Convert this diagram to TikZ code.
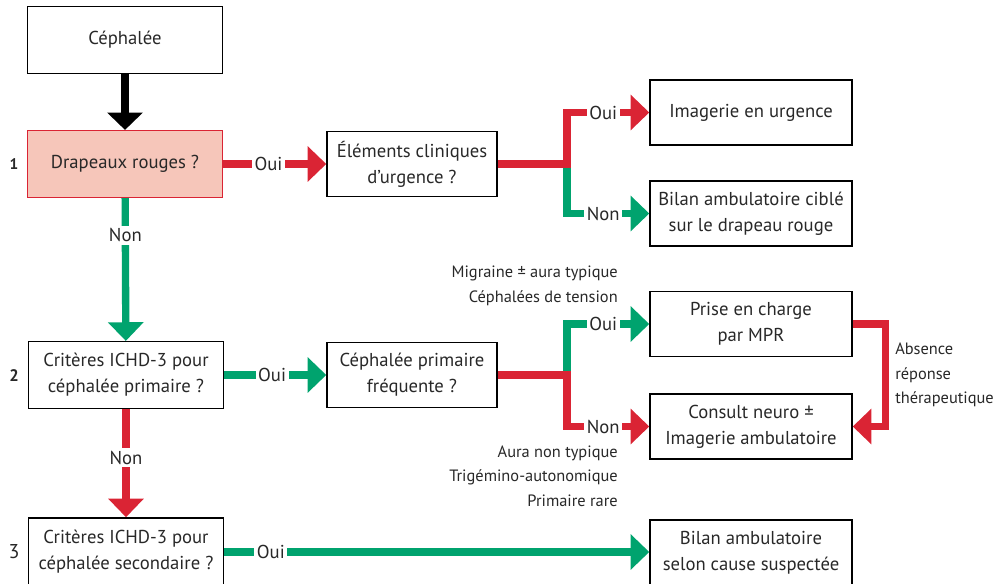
\documentclass[tikz,border=0pt]{standalone}
\usepackage{fontspec}
\setmainfont{PT Sans}
\usetikzlibrary{arrows.meta}
\definecolor{cred}{RGB}{218,36,52}
\definecolor{cgreen}{RGB}{0,163,110}
\definecolor{cpink}{RGB}{246,198,186}
\definecolor{ctext}{RGB}{40,40,40}
\begin{document}
\begin{tikzpicture}[x=0.75pt,y=-0.75pt,
 box/.style={draw=black, line width=1.1pt, text=ctext, align=center, inner sep=0pt, font=\fontsize{14}{19.5}\selectfont},
 wl/.style={box, minimum width=146pt, minimum height=50pt},
 wm/.style={box, minimum width=127.5pt, minimum height=48.75pt},
 wr/.style={box, minimum width=151.5pt, minimum height=48.75pt},
 conn/.style={line width=5.5pt, -{Triangle[width=26pt,length=14pt]}},
 lab/.style={fill=white, inner sep=2pt, text=ctext, font=\fontsize{14}{16}\selectfont},
 side/.style={text=ctext, inner sep=0pt, font=\fontsize{12.3}{14}\selectfont},
 num/.style={text=ctext, inner sep=0pt},
]
\useasboundingbox (0,0) rectangle (1000,584);
\clip (0,0) rectangle (1000,584);
% boxes
\node[wl] (ceph) at (125,40) {Céphalée};
\node[wl, fill=cpink, draw=cred] (drap) at (125,164) {Drapeaux rouges ?};
\node[wm] (elem) at (412,164) {Éléments cliniques\\d’urgence ?};
\node[wr] (img) at (751,112.5) {Imagerie en urgence};
\node[wr] (bil1) at (751,213.5) {Bilan ambulatoire ciblé\\sur le drapeau rouge};
\node[wl] (crit2) at (126,375) {Critères ICHD-3 pour\\céphalée primaire ?};
\node[wm] (prim) at (412,375) {Céphalée primaire\\fréquente ?};
\node[wr] (prise) at (751,324) {Prise en charge\\par MPR};
\node[wr] (cons) at (751,426.5) {Consult neuro ±\\Imagerie ambulatoire};
\node[wl, minimum height=51pt] (crit3) at (126,552) {Critères ICHD-3 pour\\céphalée secondaire ?};
\node[wr, minimum height=49.5pt] (bil3) at (751,553) {Bilan ambulatoire\\selon cause suspectée};
% numbers
\node[num, font=\bfseries\fontsize{11.5}{12}\selectfont] (n1) at (14,164) {1};
\node[num, font=\bfseries\fontsize{12.5}{12}\selectfont] (n2) at (14,376) {2};
\node[num, font=\fontsize{15}{15}\selectfont] (n3) at (14,552) {3};
% side texts
\node[side, anchor=east] (m1) at (618,273) {Migraine ± aura typique};
\node[side, anchor=east] (m2) at (618,298) {Céphalées de tension};
\node[side, anchor=east] (a1) at (618,453) {Aura non typique};
\node[side, anchor=east] (a2) at (618,477) {Trigémino-autonomique};
\node[side, anchor=east] (a3) at (618,501) {Primaire rare};
\node[side, anchor=west, align=left, font=\fontsize{12.3}{18.5}\selectfont] (abs) at (895,375) {Absence\\réponse\\thérapeutique};
% connectors
\draw[line width=6pt, -{Triangle[width=26pt,length=13pt]}] (ceph) -- (drap);
\draw[conn, cred] (drap) -- node[lab, pos=0.44] {Oui} (elem);
\draw[conn, cgreen] (drap) -- node[lab, pos=0.26] {Non} (crit2);
\coordinate (j1) at (567,164);
\draw[conn, cgreen] (j1) |- node[lab, pos=0.72] {Non} (bil1.west);
\draw[conn, cred] (elem.east) -- (j1) |- node[lab, pos=0.72] {Oui} (img.west);
\draw[conn, cgreen] (crit2) -- node[lab, pos=0.47] {Oui} (prim);
\coordinate (j2) at (567,375);
\draw[conn, cgreen] (j2) |- node[lab, pos=0.72] {Oui} (prise.west);
\draw[conn, cred] (prim.east) -- (j2) |- node[lab, pos=0.72] {Non} (cons.west);
\draw[conn, cred] (prise.east) -- ++(33,0) |- (cons.east);
\draw[conn, cred] (crit2) -- node[lab, pos=0.45] {Non} (crit3);
\draw[conn, cgreen] (crit3) -- node[lab, pos=0.11] {Oui} (bil3.west |- crit3);
\end{tikzpicture}
\end{document}
